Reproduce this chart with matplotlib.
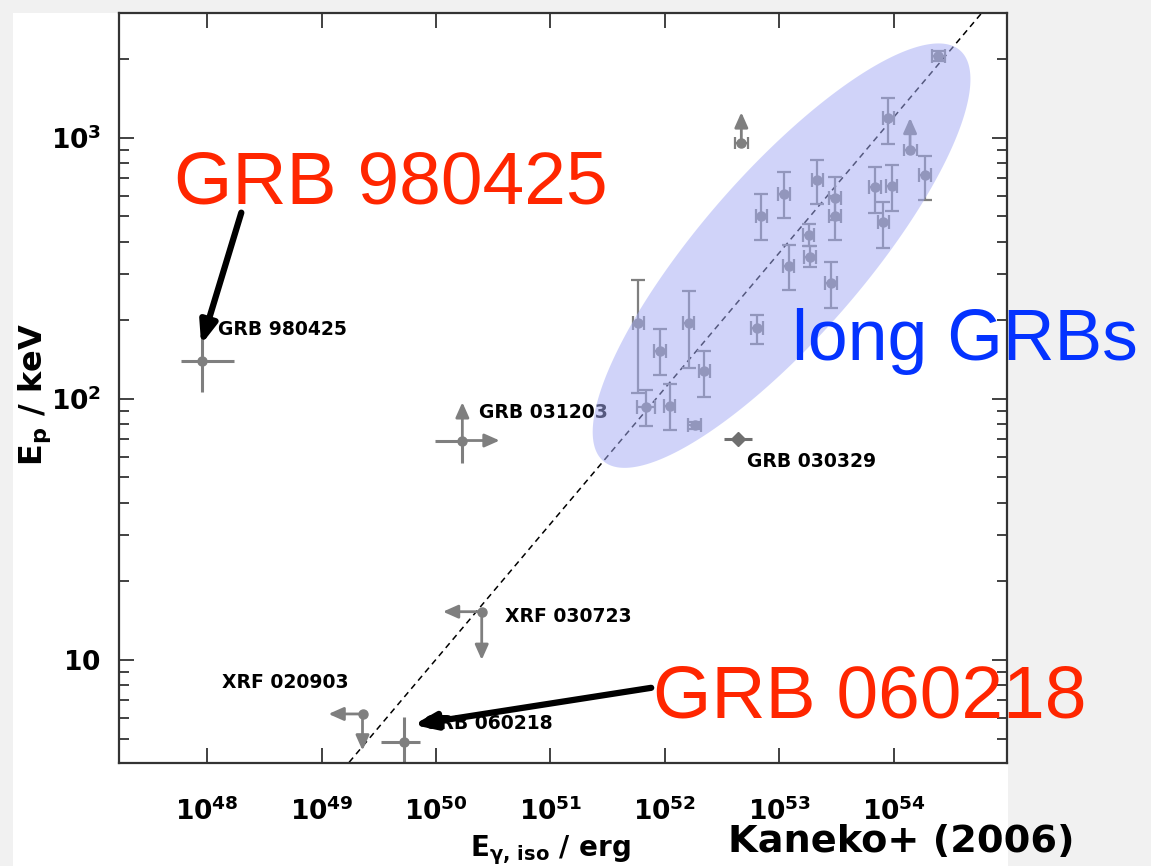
"""
Kaneko+ (2006) style Ep - E_gamma,iso plane with the long-GRB population
highlighted and the two low-luminosity bursts pointed out.
"""

import matplotlib
matplotlib.use("Agg")
import matplotlib.pyplot as plt
import numpy as np
from matplotlib.patches import Rectangle
from matplotlib.ticker import FixedLocator, FuncFormatter, LogLocator, NullFormatter, NullLocator

# long GRBs with measured Ep (erg, keV)
LONG_E = [2.46e54, 8.97e53, 1.88e54, 6.86e53, 9.6e53, 8.13e53, 2.15e53, 3.06e53,
          3.06e53, 1.10e53, 6.98e52, 1.81e53, 1.85e53, 1.21e53, 2.82e53, 6.4e52,
          5.87e51, 9.1e51, 1.61e52, 2.22e52, 6.86e51, 1.10e52, 1.82e52]
LONG_E_ERR_DEX = [0.06, 0.05, 0.05, 0.05, 0.05, 0.05, 0.05, 0.05,
                  0.05, 0.05, 0.05, 0.05, 0.05, 0.05, 0.05, 0.05,
                  0.05, 0.05, 0.05, 0.05, 0.08, 0.05, 0.06]
LONG_EP = [2050, 1190, 717, 647, 655, 475, 686, 588,
           502, 610, 502, 423, 348, 321, 277, 187,
           195, 153, 195, 128, 93.4, 94, 79.1]
LONG_EP_LO = [1960, 948, 575, 514, 525, 378, 557, 485,
              407, 492, 404, 383, 320, 260, 222, 162,
              105, 123, 131, 102, 78.8, 76, 76.5]
LONG_EP_HI = [2140, 1419, 848, 769, 788, 567, 818, 705,
              600, 736, 608, 468, 383, 389, 333, 210,
              286, 185, 259, 153, 108, 114, 81.8]

# long GRBs with Ep lower limits
LIM_E = [1.39e54, 4.66e52]
LIM_EP = [893, 955]
LIM_EP_TIP = [1190, 1250]

# individually labelled bursts
GRB980425 = dict(E=9.0e47, E_lo=5.9e47, E_hi=1.72e48, Ep=140, Ep_lo=106, Ep_hi=173)
GRB031203 = dict(E=1.7e50, E_lo=9.9e49, E_tip=3.6e50, Ep=69.2, Ep_lo=56.9, Ep_tip=97)
GRB030329 = dict(E=4.37e52, E_lo=3.3e52, E_hi=5.8e52, Ep=70.3, Ep_lo=68.8, Ep_hi=71.8)
XRF030723 = dict(E=2.51e50, E_tip=1.15e50, Ep=15.3, Ep_tip=10.0)
XRF020903 = dict(E=2.28e49, E_tip=1.15e49, Ep=6.21, Ep_tip=4.5)
GRB060218 = dict(E=5.26e49, E_lo=3.34e49, E_hi=7.2e49, Ep=4.87, Ep_lo=3.5, Ep_hi=6.07)

# Amati-type relation drawn in the paper
REL_E = [1e49, 1e55]
REL_EP = [3.04, 3954]

GREY = "#7f7f7f"
RED = "#ff2600"
BLUE = "#0433ff"

plt.rcParams["mathtext.fontset"] = "dejavusans"

fig = plt.figure(figsize=(11.51, 8.66), dpi=100, facecolor="#f1f1f1")
fig.patches.append(Rectangle((13 / 1151, 0), 995 / 1151, 853 / 866,
                             transform=fig.transFigure, facecolor="white",
                             edgecolor="none", zorder=-10))
ax = fig.add_axes([119 / 1151, 103 / 866, 888 / 1151, 750 / 866])
ax.set_facecolor("none")
ax.set_xscale("log")
ax.set_yscale("log")
ax.set_xlim(10 ** 47.23, 10 ** 54.99)
ax.set_ylim(4.03, 3000)

# relation line
ax.plot(REL_E, REL_EP, color="black", lw=1.1, ls=(0, (4, 3)), zorder=1)

# long GRBs
Ep = np.array(LONG_EP)
E = np.array(LONG_E)
edex = np.array(LONG_E_ERR_DEX)
ax.errorbar(E, Ep,
            xerr=[E - E * 10 ** -edex, E * 10 ** edex - E],
            yerr=[Ep - np.array(LONG_EP_LO), np.array(LONG_EP_HI) - Ep],
            fmt="o", ms=6.5, color=GREY, ecolor=GREY, elinewidth=1.6,
            capsize=5, capthick=1.6, zorder=2)

arrow_kw = dict(arrowstyle="-|>,head_length=0.9,head_width=0.4",
                color=GREY, lw=2, shrinkA=0, shrinkB=0)

ax.errorbar(LIM_E, LIM_EP, xerr=[[e * 0.12 for e in LIM_E], [e * 0.14 for e in LIM_E]],
            fmt="o", ms=6.5, color=GREY, elinewidth=1.6, capsize=4, capthick=1.6, zorder=2)
for e, ep, tip in zip(LIM_E, LIM_EP, LIM_EP_TIP):
    ax.annotate("", xy=(e, tip), xytext=(e, ep), arrowprops=arrow_kw, zorder=2)

# labelled bursts
g = GRB980425
ax.errorbar([g["E"]], [g["Ep"]], xerr=[[g["E"] - g["E_lo"]], [g["E_hi"] - g["E"]]],
            yerr=[[g["Ep"] - g["Ep_lo"]], [g["Ep_hi"] - g["Ep"]]],
            fmt="o", ms=6.5, color=GREY, elinewidth=2.2, capsize=0, zorder=2)

g = GRB031203
ax.errorbar([g["E"]], [g["Ep"]], xerr=[[g["E"] - g["E_lo"]], [0]],
            yerr=[[g["Ep"] - g["Ep_lo"]], [0]],
            fmt="o", ms=6.5, color=GREY, elinewidth=2.2, capsize=0, zorder=2)
ax.annotate("", xy=(g["E_tip"], g["Ep"]), xytext=(g["E"], g["Ep"]), arrowprops=arrow_kw, zorder=2)
ax.annotate("", xy=(g["E"], g["Ep_tip"]), xytext=(g["E"], g["Ep"]), arrowprops=arrow_kw, zorder=2)

g = GRB030329
ax.errorbar([g["E"]], [g["Ep"]], xerr=[[g["E"] - g["E_lo"]], [g["E_hi"] - g["E"]]],
            yerr=[[g["Ep"] - g["Ep_lo"]], [g["Ep_hi"] - g["Ep"]]],
            fmt="D", ms=7, color="#6f6f6f", elinewidth=2.2, capsize=0, zorder=2)

for g in (XRF030723, XRF020903):
    ax.plot([g["E"]], [g["Ep"]], "o", ms=6.5, color=GREY, zorder=2)
    ax.annotate("", xy=(g["E_tip"], g["Ep"]), xytext=(g["E"], g["Ep"]), arrowprops=arrow_kw, zorder=2)
    ax.annotate("", xy=(g["E"], g["Ep_tip"]), xytext=(g["E"], g["Ep"]), arrowprops=arrow_kw, zorder=2)

g = GRB060218
ax.errorbar([g["E"]], [g["Ep"]], xerr=[[g["E"] - g["E_lo"]], [g["E_hi"] - g["E"]]],
            yerr=[[g["Ep"] - g["Ep_lo"]], [g["Ep_hi"] - g["Ep"]]],
            fmt="o", ms=6.5, color=GREY, elinewidth=2.2, capsize=0, zorder=2)

lab = dict(fontsize=13.5, fontweight="bold", color="black", va="center", ha="left", zorder=3)
ax.text(1.25e48, 184, "GRB 980425", **lab)
ax.text(2.37e50, 88.3, "GRB 031203", **lab)
ax.text(5.26e52, 57.4, "GRB 030329", **lab)
ax.text(3.99e50, 14.6, "XRF 030723", **lab)
ax.text(1.35e48, 8.17, "XRF 020903", **lab)
ax.text(7.9e49, 5.69, "GRB 060218", **lab)

# long-GRB ellipse, drawn in screen space so it looks like the slide overlay
ELL_E, ELL_EP = 10 ** 53.02, 10 ** 2.548
ELL_A, ELL_B, ELL_ANGLE = 272, 82, 49
cx, cy = ax.transData.transform((ELL_E, ELL_EP))
t = np.linspace(0, 2 * np.pi, 300)
ang = np.deg2rad(ELL_ANGLE)
u, v = ELL_A * np.cos(t), ELL_B * np.sin(t)
pts = np.column_stack([cx + u * np.cos(ang) - v * np.sin(ang),
                       cy + u * np.sin(ang) + v * np.cos(ang)])
exy = ax.transData.inverted().transform(pts)
ax.fill(exy[:, 0], exy[:, 1], color="#a5acf5", alpha=0.52, lw=0, zorder=4)

# slide annotations
big = dict(family="Liberation Sans", va="baseline", ha="left", zorder=6)
ax.text(5.14e47, 558, "GRB 980425", color=RED, fontsize=54, **big)
ax.text(7.9e51, 6.0, "GRB 060218", color=RED, fontsize=54, **big)
ax.text(1.28e53, 141, "long GRBs", color=BLUE, fontsize=51.5, **big)

black_arrow = dict(arrowstyle="-|>,head_length=1.3,head_width=0.5",
                   color="black", lw=4.5, shrinkA=0, shrinkB=0)
ax.annotate("", xy=(8.87e47, 161), xytext=(1.99e48, 516), arrowprops=black_arrow, zorder=7)
ax.annotate("", xy=(6.37e49, 5.64), xytext=(7.6e51, 7.82), arrowprops=black_arrow, zorder=7)

# axes styling
ax.xaxis.set_major_locator(FixedLocator([10.0 ** k for k in range(48, 55)]))
ax.xaxis.set_minor_locator(NullLocator())
ax.yaxis.set_major_locator(FixedLocator([10, 100, 1000]))
ax.yaxis.set_minor_locator(LogLocator(base=10, subs=np.arange(2, 10)))
ax.yaxis.set_minor_formatter(NullFormatter())


def dec_label(val, pos):
    k = int(round(np.log10(val)))
    if k == 1:
        return r"$\mathbf{10}$"
    return r"$\mathbf{10^{%d}}$" % k


ax.xaxis.set_major_formatter(FuncFormatter(dec_label))
ax.yaxis.set_major_formatter(FuncFormatter(dec_label))
ax.tick_params(which="both", direction="in", top=True, right=True, color="#333333", width=1.3)
ax.tick_params(which="major", length=11, labelsize=19)
ax.tick_params(which="minor", length=7)
ax.tick_params(axis="x", pad=25)
ax.tick_params(axis="y", pad=13)
for s in ax.spines.values():
    s.set_linewidth(1.6)
    s.set_color("#333333")

ax.set_xlabel(r"$\mathbf{E_{\gamma,\,iso}}$ / erg", fontsize=20, fontweight="bold")
ax.xaxis.set_label_coords(0.486, -0.116)
ax.xaxis.label.set_va("center")
ax.set_ylabel(r"$\mathbf{E_{p}}$ / keV", fontsize=23, fontweight="bold")
ax.yaxis.set_label_coords(-0.095, 0.491)
ax.yaxis.label.set_va("center")

fig.text(728 / 1151, 1 - 842 / 866, "Kaneko+ (2006)", fontsize=27.5, fontweight="bold",
         ha="left", va="center")

fig.savefig("out.png", dpi=100, facecolor=fig.get_facecolor())
